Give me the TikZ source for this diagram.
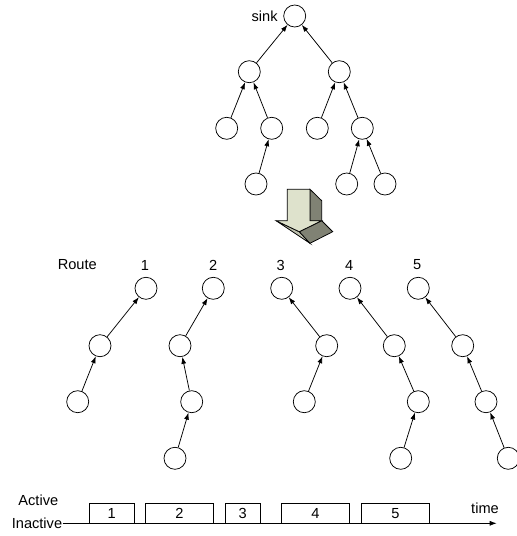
\documentclass[tikz,border=0pt]{standalone}
\usepackage{fontspec}
\setmainfont{Liberation Sans}
\usetikzlibrary{arrows.meta}
\definecolor{arrowlight}{RGB}{222,226,204}
\definecolor{arrowdark}{RGB}{128,130,116}
\tikzset{
  every picture/.style={x=1pt,y=-1pt,line width=0.75pt},
  every node/.style={font=\fontsize{14.6}{16}\selectfont},
  sensor/.style={draw,circle,minimum size=22pt,inner sep=0pt},
  hop/.style={-{Latex[length=7pt,width=5pt]}},
  slot/.style={draw,minimum height=20pt,inner sep=0pt}
}
\begin{document}
\begin{tikzpicture}

  \useasboundingbox (0,0) rectangle (517,536);

  % collection tree
  \node [sensor] (sink) at (294.7,16) {};
  \node [left=2pt] at (sink.west) (sinklabel) {sink};
  \node [sensor] (a) at (249.3,71.7) {};
  \node [sensor] (b) at (339.3,71.7) {};
  \node [sensor] (c) at (226.7,128.3) {};
  \node [sensor] (d) at (271.7,128.3) {};
  \node [sensor] (e) at (317.3,128.3) {};
  \node [sensor] (f) at (362.3,128.3) {};
  \node [sensor] (g) at (256,184) {};
  \node [sensor] (h) at (346.7,184) {};
  \node [sensor] (i) at (385,184) {};

  \foreach \u/\v in {a/sink,b/sink,c/a,d/a,e/b,f/b,g/d,h/f,i/f}
    \draw [hop] (\u) -- (\v);

  % block arrow:
  \draw [fill=arrowdark] (310,189.3) -- (321.7,200.7) -- (321.7,220.7) -- (310,220.7) -- cycle;
  \draw [fill=arrowlight!85!black] (276,220.7) -- (299.3,231.7) -- (310,243.3) -- cycle;
  \draw [fill=arrowdark] (299.3,231.7) -- (321.7,220.7) -- (332.7,231.7) -- (310,243.3) -- cycle;
  \draw [fill=arrowlight] (287.3,189.3) -- (310,189.3) -- (310,220.7) -- (321.7,220.7)
    -- (299.3,231.7) -- (276,220.7) -- (287.3,220.7) -- cycle;

  % routes
  \node (routelabel) at (77.3,265) {Route};
  \node (r1) at (145,265) {1};
  \node (r2) at (213.3,265) {2};
  \node (r3) at (280.7,265) {3};
  \node (r4) at (349.3,265) {4};
  \node (r5) at (417.3,265) {5};

  \node [sensor] (p1a) at (146,288.3) {};
  \node [sensor] (p1b) at (100,345.7) {};
  \node [sensor] (p1c) at (77.7,401.7) {};

  \node [sensor] (p2a) at (213.3,288.3) {};
  \node [sensor] (p2b) at (180,345.7) {};
  \node [sensor] (p2c) at (191.7,401.7) {};
  \node [sensor] (p2d) at (175,458.3) {};

  \node [sensor] (p3a) at (281.7,288.3) {};
  \node [sensor] (p3b) at (326.7,345.7) {};
  \node [sensor] (p3c) at (304.3,401.7) {};

  \node [sensor] (p4a) at (350,288.3) {};
  \node [sensor] (p4b) at (394.3,345.7) {};
  \node [sensor] (p4c) at (418.3,401.7) {};
  \node [sensor] (p4d) at (400.7,458.3) {};

  \node [sensor] (p5a) at (418.3,288.3) {};
  \node [sensor] (p5b) at (462.7,345.7) {};
  \node [sensor] (p5c) at (486,401.7) {};
  \node [sensor] (p5d) at (508.3,458.3) {};

  \foreach \u/\v in {p1b/p1a,p1c/p1b,p2b/p2a,p2c/p2b,p2d/p2c,p3b/p3a,p3c/p3b,
                     p4b/p4a,p4c/p4b,p4d/p4c,p5b/p5a,p5c/p5b,p5d/p5c}
    \draw [hop] (\u) -- (\v);

  % schedule
  \node (active) at (38.3,500) {Active};
  \node [inner sep=0pt] (inactive) at (37,523.3) {Inactive};
  \coordinate (timeend) at (496.7,523.3);
  \draw [-{Latex[length=7pt,width=5pt]}] (inactive.east) -- (timeend);
  \node (timelabel) at (485,508.3) {time};

  \foreach \n/\xa/\xb in {1/89.3/134.3,2/145.7/213.3,3/225.3/260,4/281.7/349.3,5/361.7/429}
    \draw (\xa,523.3) rectangle (\xb,503.3) node [midway] (slot\n) {\n};

\end{tikzpicture}
\end{document}
